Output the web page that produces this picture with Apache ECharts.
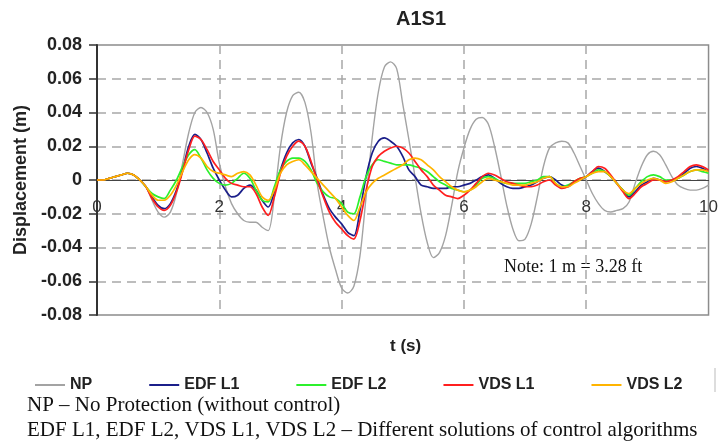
<!DOCTYPE html>
<html>
<head>
<meta charset="utf-8">
<script src="https://cdn.jsdelivr.net/npm/echarts@6/dist/echarts.min.js"></script>
<style>
  html, body { margin: 0; padding: 0; background: #fff; }
  #chart { width: 721px; height: 445px; }
</style>
</head>
<body>
<div id="chart"></div>
<script>
// displacement (m) sampled every 0.1 s from t = 0 to t = 10
const seriesNames = ['NP', 'EDF L1', 'EDF L2', 'VDS L1', 'VDS L2']
const colors = ['#a3a3a3', '#1b1f8a', '#2cf02c', '#ff1f1f', '#ffb400']

const np = [
  0.000, 0.000, 0.001, 0.002, 0.003, 0.004, 0.003, 0.000, -0.004, -0.012,
  -0.019, -0.022, -0.019, -0.008, 0.010, 0.028, 0.040, 0.043, 0.040, 0.030,
  0.010, -0.004, -0.014, -0.020, -0.024, -0.025, -0.025, -0.028, -0.030, -0.010,
  0.020, 0.040, 0.050, 0.052, 0.046, 0.028, -0.002, -0.022, -0.040, -0.053,
  -0.064, -0.067, -0.063, -0.045, -0.010, 0.025, 0.052, 0.067, 0.070, 0.066,
  0.045, 0.024, 0.002, -0.020, -0.037, -0.046, -0.043, -0.033, -0.015, 0.005,
  0.019, 0.030, 0.036, 0.037, 0.033, 0.020, 0.003, -0.015, -0.029, -0.036,
  -0.035, -0.026, -0.010, 0.008, 0.019, 0.022, 0.023, 0.022, 0.016, 0.008,
  0.000, -0.008, -0.014, -0.018, -0.019, -0.018, -0.017, -0.013, -0.002, 0.008,
  0.015, 0.017, 0.015, 0.009, 0.002, -0.003, -0.005, -0.006, -0.006, -0.005,
  -0.003
]
const edfL1 = [
  0.000, 0.000, 0.001, 0.002, 0.003, 0.004, 0.003, 0.000, -0.004, -0.010,
  -0.015, -0.017, -0.014, -0.006, 0.006, 0.020, 0.027, 0.024, 0.016, 0.007,
  0.000, -0.006, -0.010, -0.009, -0.005, -0.003, -0.006, -0.012, -0.016, -0.007,
  0.006, 0.016, 0.022, 0.024, 0.020, 0.010, 0.001, -0.009, -0.017, -0.022,
  -0.026, -0.031, -0.033, -0.018, 0.002, 0.016, 0.023, 0.025, 0.023, 0.020,
  0.014, 0.006, 0.002, -0.003, -0.004, -0.005, -0.005, -0.005, -0.004, -0.004,
  -0.003, -0.002, 0.000, 0.002, 0.003, 0.001, -0.002, -0.004, -0.005, -0.005,
  -0.004, -0.003, -0.001, 0.001, 0.002, 0.000, -0.003, -0.004, -0.001, 0.000,
  0.002, 0.005, 0.007, 0.005, 0.002, -0.002, -0.006, -0.010, -0.007, -0.003,
  -0.001, 0.001, 0.000, -0.001, 0.000, 0.001, 0.004, 0.007, 0.008, 0.007,
  0.005
]
const edfL2 = [
  0.000, 0.000, 0.001, 0.002, 0.003, 0.004, 0.003, 0.000, -0.004, -0.008,
  -0.010, -0.011, -0.006, 0.000, 0.008, 0.015, 0.018, 0.013, 0.006, 0.001,
  -0.002, -0.003, -0.002, 0.001, 0.004, 0.001, -0.006, -0.012, -0.013, -0.004,
  0.006, 0.011, 0.013, 0.013, 0.011, 0.006, -0.002, -0.007, -0.010, -0.011,
  -0.014, -0.019, -0.020, -0.010, 0.002, 0.009, 0.012, 0.011, 0.010, 0.009,
  0.009, 0.009, 0.008, 0.007, 0.005, 0.002, -0.001, -0.003, -0.005, -0.006,
  -0.007, -0.006, -0.003, 0.001, 0.002, 0.001, -0.001, -0.002, -0.002, -0.002,
  -0.002, -0.001, 0.000, 0.002, 0.002, -0.002, -0.004, -0.003, -0.001, 0.001,
  0.002, 0.004, 0.006, 0.005, 0.002, -0.002, -0.006, -0.009, -0.005, -0.001,
  0.002, 0.003, 0.002, 0.000, 0.000, 0.001, 0.003, 0.005, 0.006, 0.005,
  0.004
]
const vdsL1 = [
  0.000, 0.000, 0.001, 0.002, 0.003, 0.004, 0.003, 0.000, -0.004, -0.011,
  -0.016, -0.018, -0.015, -0.007, 0.005, 0.018, 0.026, 0.024, 0.018, 0.011,
  0.006, 0.001, -0.002, -0.003, -0.004, -0.004, -0.008, -0.016, -0.021, -0.010,
  0.004, 0.014, 0.020, 0.023, 0.020, 0.011, 0.000, -0.010, -0.019, -0.025,
  -0.029, -0.033, -0.035, -0.024, -0.006, 0.008, 0.014, 0.017, 0.019, 0.020,
  0.019, 0.016, 0.011, 0.006, 0.002, -0.003, -0.006, -0.009, -0.010, -0.011,
  -0.009, -0.006, -0.002, 0.002, 0.004, 0.003, 0.001, -0.001, -0.002, -0.003,
  -0.004, -0.004, -0.003, -0.001, 0.000, -0.003, -0.005, -0.004, -0.001, 0.001,
  0.002, 0.005, 0.008, 0.007, 0.003, -0.002, -0.007, -0.011, -0.008, -0.004,
  -0.002, 0.000, 0.000, -0.001, 0.000, 0.002, 0.005, 0.008, 0.009, 0.008,
  0.006
]
const vdsL2 = [
  0.000, 0.000, 0.001, 0.002, 0.003, 0.004, 0.003, 0.000, -0.004, -0.009,
  -0.012, -0.012, -0.009, -0.003, 0.005, 0.012, 0.015, 0.013, 0.008, 0.005,
  0.004, 0.003, 0.002, 0.004, 0.005, 0.003, -0.003, -0.010, -0.012, -0.006,
  0.004, 0.009, 0.011, 0.012, 0.009, 0.005, 0.001, -0.003, -0.007, -0.011,
  -0.016, -0.021, -0.024, -0.016, -0.007, -0.002, 0.001, 0.003, 0.005, 0.007,
  0.009, 0.012, 0.013, 0.012, 0.009, 0.006, 0.002, -0.001, -0.004, -0.006,
  -0.007, -0.006, -0.004, -0.001, 0.001, 0.000, -0.001, -0.002, -0.003, -0.003,
  -0.003, -0.002, -0.001, 0.001, 0.002, -0.002, -0.004, -0.004, -0.002, 0.000,
  0.002, 0.004, 0.005, 0.005, 0.002, -0.002, -0.006, -0.008, -0.005, -0.002,
  0.000, 0.001, 0.000, -0.002, -0.001, 0.001, 0.003, 0.005, 0.006, 0.006,
  0.005
]

const time = np.map((_, i) => +(i * 0.1).toFixed(1))
const allValues = [np, edfL1, edfL2, vdsL1, vdsL2]

const sans = 'Liberation Sans, Arial, sans-serif'
const serif = 'Liberation Serif, Times New Roman, serif'

let seriesOption = allValues.map((vals, k) => ({
  name: seriesNames[k],
  type: 'line',
  smooth: 0.3,
  symbol: 'none',
  data: vals.map((v, i) => [time[i], v]),
  lineStyle: { width: k === 0 ? 1.4 : 1.7, color: colors[k] },
  itemStyle: { color: colors[k] },
}))

let myChart = echarts.init(document.getElementById('chart'))
myChart.setOption({
  animation: false,
  color: colors,
  title: {
    text: 'A1S1',
    left: 391,
    top: 4,
    textStyle: { fontFamily: sans, fontSize: 20, fontWeight: 'bold', color: '#222' },
  },
  grid: {
    left: 97,
    top: 45,
    width: 616,
    height: 270,
    show: true,
    borderColor: '#8c8c8c',
    borderWidth: 1.5,
  },
  legend: {
    left: 30,
    top: 372,
    icon: 'rect',
    itemWidth: 30,
    itemHeight: 2,
    itemGap: 57,
    data: seriesNames,
    textStyle: { fontFamily: sans, fontSize: 16, fontWeight: 'bold', color: '#222' },
  },
  xAxis: {
    type: 'value',
    min: 0,
    max: 10,
    interval: 2,
    position: 'bottom',
    // the axis sits on y = 0 (135 px above the bottom of the plot)
    offset: -135,
    axisLine: { onZero: false, lineStyle: { color: '#444', width: 1.2 } },
    axisTick: { show: false },
    axisLabel: { fontFamily: sans, fontSize: 17, color: '#333', margin: 19 },
    splitLine: {
      show: true,
      showMinLine: false,
      showMaxLine: false,
      lineStyle: { color: '#a8a8a8', width: 1.5, type: [9, 6] },
    },
  },
  yAxis: {
    type: 'value',
    min: -0.08,
    max: 0.08,
    interval: 0.02,
    name: 'Displacement (m)',
    nameLocation: 'middle',
    nameGap: 66,
    nameTextStyle: { fontFamily: sans, fontSize: 18, fontWeight: 'bold', color: '#222' },
    axisLine: { show: true, onZero: false, lineStyle: { color: '#333', width: 2 } },
    axisTick: { show: true, length: 8, lineStyle: { color: '#333', width: 1.5 } },
    axisLabel: {
      fontFamily: sans,
      fontSize: 18,
      fontWeight: 'bold',
      color: '#222',
      margin: 15,
      formatter: (v) => (Math.abs(v) < 1e-9 ? '0' : v.toFixed(2)),
    },
    splitLine: {
      show: true,
      showMinLine: false,
      showMaxLine: false,
      lineStyle: { color: '#a8a8a8', width: 1.5, type: [9, 6] },
    },
  },
  graphic: {
    elements: [
      {
        type: 'text',
        left: 390,
        top: 338,
        style: { text: 't (s)', font: 'bold 17px ' + sans, fill: '#222' },
      },
      {
        type: 'text',
        left: 504,
        top: 258,
        style: { text: 'Note: 1 m = 3.28 ft', font: '18px ' + serif, fill: '#111' },
      },
      {
        type: 'rect',
        shape: { x: 714, y: 368, width: 2, height: 24 },
        style: { fill: '#ddd' },
      },
      {
        type: 'text',
        left: 27,
        top: 395,
        style: { text: 'NP – No Protection (without control)', font: '21px ' + serif, fill: '#111' },
      },
      {
        type: 'text',
        left: 27,
        top: 420,
        style: {
          text: 'EDF L1, EDF L2, VDS L1, VDS L2 – Different solutions of control algorithms',
          font: '21px ' + serif,
          fill: '#111',
        },
      },
    ],
  },
  tooltip: { show: false },
  series: seriesOption,
})
</script>
</body>
</html>
